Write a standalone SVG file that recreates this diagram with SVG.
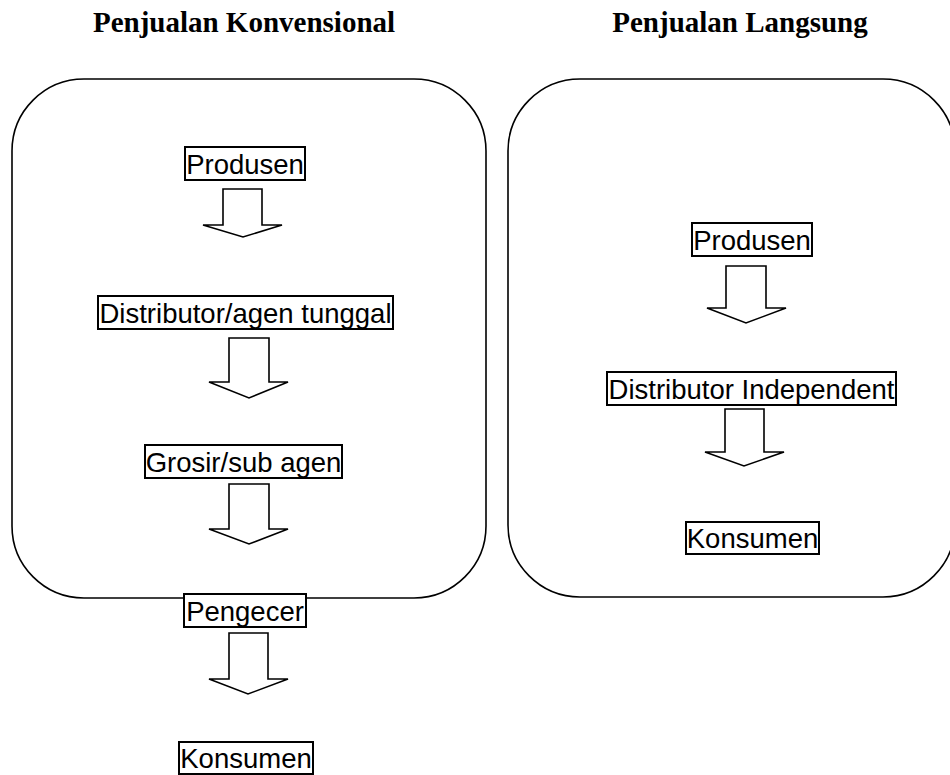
<svg xmlns="http://www.w3.org/2000/svg" width="950" height="775" viewBox="0 0 950 775">
<defs>
<style>
.title{font-family:"Liberation Serif","Times New Roman",serif;font-weight:bold;font-size:29px;fill:#000;text-anchor:middle}
.frame{fill:none;stroke:#000;stroke-width:1.6}
.box{fill:#fff;stroke:#000;stroke-width:2}
.lbl{font-family:"Liberation Sans",Arial,sans-serif;font-size:27.5px;fill:#000;text-anchor:middle}
.arrow{fill:#fff;stroke:#000;stroke-width:1.6;stroke-linejoin:miter}
</style>
</defs>
<rect width="950" height="775" fill="#fff"/>
<g id="titles">
<text class="title" x="244" y="32">Penjualan Konvensional</text>
<text class="title" x="740" y="32">Penjualan Langsung</text>
</g>
<g id="frame-konvensional"><rect class="frame" x="12" y="79" width="474" height="519" rx="72" ry="72"/></g>
<g id="frame-langsung"><rect class="frame" x="508" y="79" width="447" height="518" rx="72" ry="72"/></g>
<g id="connectors">
<polygon class="arrow" points="223,189 262,189 262,225 282,225 243,237 203,225 223,225"/>
<polygon class="arrow" points="229,338 269,338 269,382 288,382 249,398 209,382 229,382"/>
<polygon class="arrow" points="229,484 269,484 269,529 288,529 249,544 209,529 229,529"/>
<polygon class="arrow" points="229,633 268,633 268,679 288,679 248,694 209,679 229,679"/>
<polygon class="arrow" points="726,266 766,266 766,308 786,308 746,323 707,308 726,308"/>
<polygon class="arrow" points="725,409 764,409 764,452 784,452 744,466 705,452 725,452"/>
</g>
<g id="k-produsen"><rect class="box" x="185" y="147" width="120" height="33"/><text class="lbl" x="245" y="173.5">Produsen</text></g>
<g id="k-distributor"><rect class="box" x="98" y="296" width="295" height="33"/><text class="lbl" x="245.5" y="322.5">Distributor/agen tunggal</text></g>
<g id="k-grosir"><rect class="box" x="145" y="445" width="197" height="33"/><text class="lbl" x="243.5" y="471.5">Grosir/sub agen</text></g>
<g id="k-pengecer"><rect class="box" x="184" y="594" width="122" height="33"/><text class="lbl" x="245" y="620.5">Pengecer</text></g>
<g id="k-konsumen"><rect class="box" x="179" y="742" width="134" height="32"/><text class="lbl" x="246" y="768">Konsumen</text></g>
<g id="l-produsen"><rect class="box" x="692" y="223" width="120" height="33"/><text class="lbl" x="752" y="249.5">Produsen</text></g>
<g id="l-distributor"><rect class="box" x="607" y="372" width="289" height="33"/><text class="lbl" x="751.5" y="398.5">Distributor Independent</text></g>
<g id="l-konsumen"><rect class="box" x="686" y="522" width="133" height="32"/><text class="lbl" x="752.5" y="548">Konsumen</text></g>
</svg>
